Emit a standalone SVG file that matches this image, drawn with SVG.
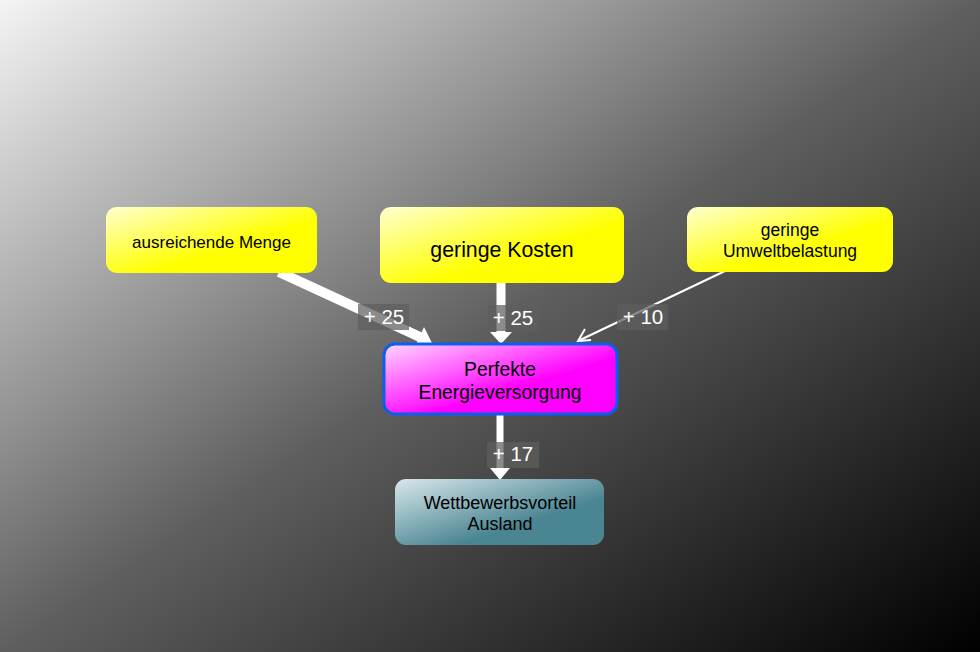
<svg xmlns="http://www.w3.org/2000/svg" width="980" height="652" viewBox="0 0 980 652">
<defs>
<linearGradient id="bg" x1="0" y1="0" x2="1" y2="1">
<stop offset="0" stop-color="#f4f4f4"/>
<stop offset="0.5" stop-color="#5f5f5f"/>
<stop offset="1" stop-color="#000"/>
</linearGradient>
<linearGradient id="yel" x1="0" y1="0" x2="1" y2="1">
<stop offset="0" stop-color="#ffffd0"/>
<stop offset="0.6" stop-color="#ffff00"/>
</linearGradient>
<linearGradient id="mag" x1="0" y1="0" x2="1" y2="1">
<stop offset="0" stop-color="#ffd8ff"/>
<stop offset="0.6" stop-color="#ff00ff"/>
</linearGradient>
<linearGradient id="teal" x1="0" y1="0" x2="1" y2="1">
<stop offset="0" stop-color="#d8e8ec"/>
<stop offset="0.65" stop-color="#4a8592"/>
</linearGradient>
<style>
.t{font-family:"Liberation Sans",Arial,sans-serif;fill:#000;text-anchor:middle}
.lb{fill:#5e5e5e;fill-opacity:0.72}
.lt{font-family:"Liberation Sans",Arial,sans-serif;fill:#fff;font-size:20.5px;text-anchor:middle}
.ln{stroke:#fff;fill:none}
.ah{fill:#fff}
</style>
</defs>
<rect x="0" y="0" width="980" height="652" fill="url(#bg)"/>
<g id="connectors">
<g id="c1">
<line class="ln" x1="279" y1="272" x2="420" y2="337" stroke-width="10"/>
<polygon class="ah" points="432,343 414.5,347.5 424,327"/>
<rect class="lb" x="358" y="304" width="51" height="26"/>
<text class="lt" x="384" y="324">+ 25</text>
</g>
<g id="c2">
<line class="ln" x1="501" y1="282" x2="501" y2="334" stroke-width="9"/>
<polygon class="ah" points="490,332 512,332 501,344"/>
<rect class="lb" x="488" y="305" width="50" height="26"/>
<text class="lt" x="513" y="325">+ 25</text>
</g>
<g id="c3">
<line class="ln" x1="725" y1="271" x2="578" y2="341" stroke-width="2"/>
<polyline class="ln" points="585,329 578,341 591,340" stroke-width="2"/>
<rect class="lb" x="617" y="304" width="51" height="26"/>
<text class="lt" x="643" y="324">+ 10</text>
</g>
<g id="c4">
<line class="ln" x1="500" y1="414" x2="500" y2="469" stroke-width="7"/>
<polygon class="ah" points="490,468 510,468 500,480"/>
<rect class="lb" x="487" y="442" width="52" height="26"/>
<text class="lt" x="513" y="461">+ 17</text>
</g>
</g>
<g id="n1">
<rect x="106" y="207" width="211" height="66" rx="11" fill="url(#yel)"/>
<text class="t" x="211.5" y="248" font-size="17">ausreichende Menge</text>
</g>
<g id="n2">
<rect x="380" y="207" width="244" height="76" rx="11" fill="url(#yel)"/>
<text class="t" x="502" y="257" font-size="21.3">geringe Kosten</text>
</g>
<g id="n3">
<rect x="687" y="207" width="206" height="65" rx="11" fill="url(#yel)"/>
<text class="t" x="790" y="236" font-size="17.5">geringe</text>
<text class="t" x="790" y="257" font-size="17.5">Umweltbelastung</text>
</g>
<g id="n4">
<rect x="384" y="344" width="233" height="70" rx="11" fill="url(#mag)" stroke="#0a5ff0" stroke-width="3"/>
<text class="t" x="500" y="376" font-size="19.3">Perfekte</text>
<text class="t" x="500" y="399" font-size="19.3">Energieversorgung</text>
</g>
<g id="n5">
<rect x="395" y="479" width="209" height="66" rx="11" fill="url(#teal)"/>
<text class="t" x="500" y="509" font-size="18">Wettbewerbsvorteil</text>
<text class="t" x="500" y="530" font-size="18">Ausland</text>
</g>
</svg>
